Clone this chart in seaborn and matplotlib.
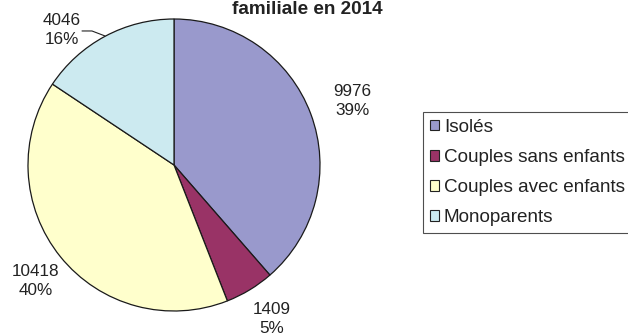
import matplotlib
matplotlib.use("Agg")
import matplotlib.pyplot as plt
from matplotlib.patches import Patch
import seaborn as sns

# Household counts by family structure, 2014
categories = ["Isolés", "Couples sans enfants", "Couples avec enfants", "Monoparents"]
counts = [9976, 1409, 10418, 4046]
percent_labels = ["39%", "5%", "40%", "16%"]
slice_colors = ["#9999cc", "#993366", "#ffffcc", "#cceaf0"]

sns.set_theme(style="white")
plt.rcParams["font.family"] = ["Liberation Sans", "DejaVu Sans"]

W, H = 628, 335
fig = plt.figure(figsize=(W / 100, H / 100), dpi=100)
fig.patch.set_facecolor("white")

# pie centre (174, 165) px, radius 146 px
cx, cy, r = 174, 165, 146
ax = fig.add_axes([(cx - r) / W, (H - cy - r) / H, 2 * r / W, 2 * r / H])
palette = sns.color_palette(slice_colors)

wedges, _ = ax.pie(
    counts,
    colors=palette,
    startangle=90,
    counterclock=False,
    radius=1.0,
    wedgeprops=dict(edgecolor="#1a1a1a", linewidth=0.9),
)
ax.set_xlim(-1.0, 1.0)
ax.set_ylim(-1.0, 1.0)
ax.set_aspect("equal")
ax.axis("off")

# value / share labels placed around the pie
label_pos = [(1.22, 0.44), (0.67, -1.055), (-0.95, -0.795), (-0.767, 0.925)]
for (x, y), n, p in zip(label_pos, counts, percent_labels):
    ax.text(x, y, f"{n}\n{p}", ha="center", va="center", fontsize=12.3,
            color="#222222", linespacing=1.3, clip_on=False)

# leader line for the Monoparents label
ax.plot([-0.630, -0.562, -0.473], [0.918, 0.918, 0.884], color="#222222",
        linewidth=0.8, clip_on=False)

# title (second line)
fig.text(307 / W, 1 - 14 / H, "familiale en 2014", ha="center", va="baseline",
         fontsize=13.6, fontweight="bold", color="#222222")

handles = [Patch(facecolor=c, edgecolor="#222222", linewidth=0.8) for c in palette]
leg = fig.legend(handles, categories, loc="upper left",
                 bbox_to_anchor=(423 / W, 1 - 112 / H), frameon=True,
                 fancybox=False, fontsize=13.6, handlelength=0.5, handleheight=0.5,
                 handletextpad=0.25, labelspacing=0.7, borderpad=0.35,
                 borderaxespad=0)
leg.get_frame().set_edgecolor("#222222")
leg.get_frame().set_linewidth(0.8)
for t in leg.get_texts():
    t.set_color("#222222")

fig.savefig("out.png", dpi=100, facecolor="white")
